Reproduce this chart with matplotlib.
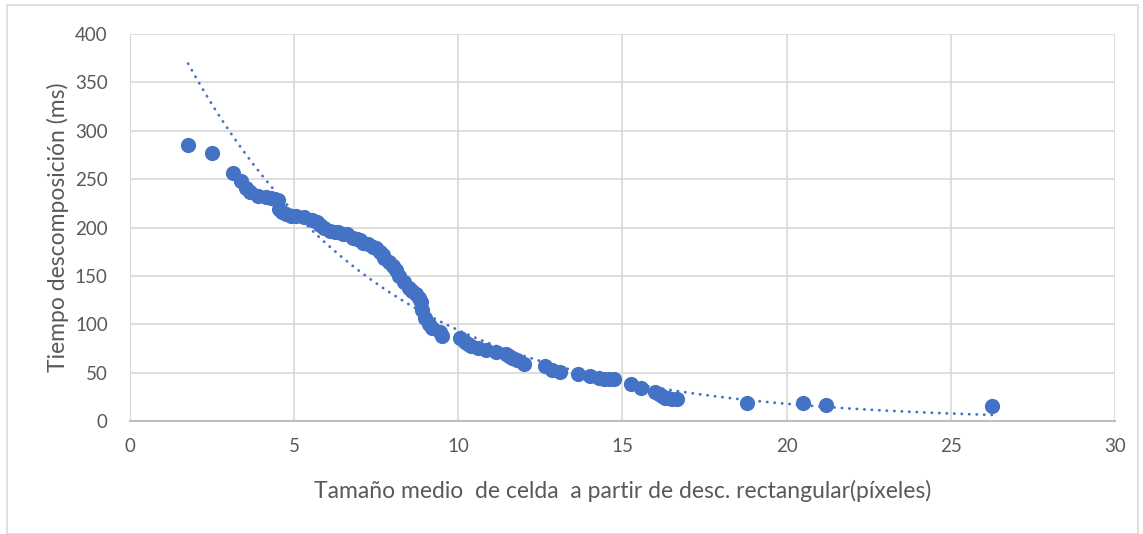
import numpy as np
import matplotlib
matplotlib.use("Agg")
import matplotlib.pyplot as plt
from matplotlib.patches import Rectangle

# Tamaño medio de celda (px) y tiempo de descomposición (ms)
tamano = [1.77, 2.50, 3.14, 3.38, 3.53, 3.65, 3.90, 4.14, 4.30, 4.50, 4.55, 4.62,
          4.75, 4.90, 5.05, 5.30, 5.55, 5.70, 5.80, 5.90, 6.10, 6.25, 6.35, 6.50,
          6.60, 6.80, 6.90, 7.00, 7.10, 7.25, 7.40, 7.50, 7.60, 7.70, 7.75, 7.90,
          8.00, 8.10, 8.20, 8.35, 8.50, 8.60, 8.70, 8.80, 8.85, 8.90, 9.00, 9.10,
          9.20, 9.45, 9.50, 10.05, 10.20, 10.30, 10.40, 10.60, 10.85, 11.15, 11.45,
          11.55, 11.65, 11.80, 12.00, 12.65, 12.85, 13.10, 13.65, 14.00, 14.30,
          14.45, 14.60, 14.75, 15.25, 15.55, 16.00, 16.10, 16.20, 16.30, 16.40,
          16.50, 16.65, 18.80, 20.50, 21.20, 26.25]
tiempo = [285, 277, 256, 248, 241, 237, 233, 232, 230, 228, 219, 216,
          214, 212, 212, 211, 208, 206, 203, 200, 196, 195, 195, 193,
          193, 189, 188, 187, 184, 183, 180, 179, 175, 172, 168, 164,
          160, 156, 150, 144, 137, 134, 131, 127, 123, 115, 106, 100,
          96, 92, 88, 86, 82, 80, 78, 75, 73, 71, 69,
          67, 65, 63, 59, 57, 53, 51, 49, 47, 44,
          43, 43, 43, 38, 34, 30, 28, 26, 24, 24,
          23, 23, 19, 19, 17, 15]

x = np.array(tamano)
y = np.array(tiempo)

# línea de tendencia exponencial (ajuste lineal sobre ln y)
b, lna = np.polyfit(x, np.log(y), 1)
xt = np.linspace(x.min(), x.max(), 200)
yt = np.exp(lna) * np.exp(b * xt)

azul = "#4472C4"
gris = "#595959"

fig = plt.figure(figsize=(11.43, 5.34), dpi=100)
ax = fig.add_axes([0.1137, 0.2116, 0.8618, 0.7247])

ax.scatter(x, y, s=120, color=azul, zorder=3, linewidths=0)
ax.plot(xt, yt, color=azul, lw=2.0, linestyle=(0, (0.1, 2.6)),
        dash_capstyle="round", zorder=4)

ax.set_xlim(0, 30)
ax.set_ylim(0, 400)
ax.set_xticks(range(0, 31, 5))
ax.set_yticks(range(0, 401, 50))
ax.grid(True, color="#D9D9D9", lw=1.2)
ax.set_axisbelow(True)
for s in ["top", "right"]:
    ax.spines[s].set_visible(False)
ax.spines["left"].set_color("#D9D9D9")
ax.spines["bottom"].set_color("#BFBFBF")
ax.spines["bottom"].set_linewidth(1.5)
ax.tick_params(length=0, labelsize=13.5, colors=gris)
ax.tick_params(axis="x", pad=12)
ax.tick_params(axis="y", pad=16)

fnt = "Lato"
for lab in ax.get_xticklabels() + ax.get_yticklabels():
    lab.set_fontfamily(fnt)

ax.set_xlabel("Tamaño medio  de celda  a partir de desc. rectangular(píxeles)",
              fontsize=16.5, color=gris, family=fnt, labelpad=18)
ax.set_ylabel("Tiempo descomposición (ms)", fontsize=16.5, color=gris,
              family=fnt, labelpad=4)

# borde del área del gráfico
fig.patches.append(Rectangle((0.006, 0.0), 0.99, 0.99, transform=fig.transFigure,
                             fill=False, edgecolor="#D9D9D9", lw=1.2))

fig.savefig("out.png", dpi=100)
